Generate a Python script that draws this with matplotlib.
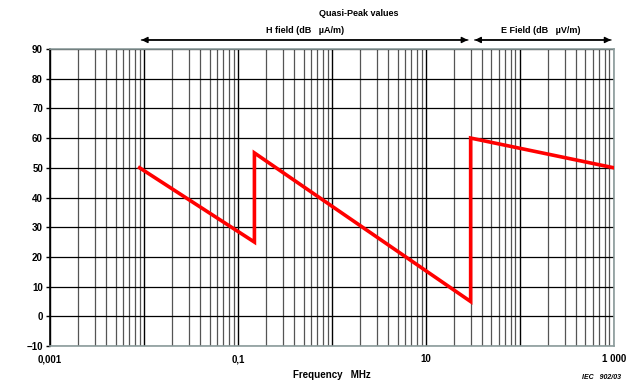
import numpy as np
import matplotlib
matplotlib.use("Agg")
import matplotlib.pyplot as plt
from matplotlib.ticker import FixedLocator, NullFormatter

plt.rcParams['font.family'] = ['Liberation Sans', 'DejaVu Sans']

# limit line (frequency in MHz, level in dB)
freq = [0.009, 0.15, 0.15, 30, 30, 1000]
level = [50, 25, 55, 5, 60, 50]

xtick_pos = [0.001, 0.1, 10, 1000]
xtick_lab = ["0,001", "0,1", "10", "1 000"]
ytick_pos = [-10, 0, 10, 20, 30, 40, 50, 60, 70, 80, 90]

fig = plt.figure(figsize=(6.4, 3.85), dpi=100)
ax = fig.add_axes([0.078, 0.101, 0.881, 0.772])

ax.set_xscale('log')
ax.set_xlim(0.001, 1000)
ax.set_ylim(-10, 90)

# log grid: decade lines and 2..9 subdivisions
minor = [m * 10.0**e for e in range(-3, 3) for m in range(2, 10)]
decades = [10.0**e for e in range(-3, 4)]
for v in minor:
    ax.axvline(v, color='#555555', lw=0.9, zorder=1)
for v in decades:
    ax.axvline(v, color='black', lw=1.0, zorder=1)
for v in ytick_pos:
    ax.axhline(v, color='black', lw=0.9, zorder=1)

ax.plot(freq, level, color='#ff0000', lw=2.6, zorder=3, solid_joinstyle='miter')

ax.xaxis.set_major_locator(FixedLocator(xtick_pos))
ax.set_xticklabels(xtick_lab)
ax.xaxis.set_minor_formatter(NullFormatter())
ax.tick_params(axis='x', which='both', length=0, pad=6)
ax.set_yticks(ytick_pos)
ax.set_yticklabels([("\u221210" if v < 0 else str(v)) for v in ytick_pos])
ax.tick_params(axis='y', length=3, width=1, pad=2)
for lab in ax.get_xticklabels() + ax.get_yticklabels():
    lab.set_fontsize(7)
    lab.set_fontweight('bold')

for s in ['top', 'right', 'bottom']:
    ax.spines[s].set_color('#8c9c9c')
    ax.spines[s].set_linewidth(1.2)
ax.spines['left'].set_color('black')
ax.spines['left'].set_linewidth(1.2)

ax.set_xlabel("Frequency   MHz", fontsize=7, fontweight='bold', labelpad=4)

# headings and range arrows
fig.text(0.56, 0.965, "Quasi-Peak values", fontsize=6.5, fontweight='bold',
         ha='center', va='center')
tr = ('data', 'axes fraction')
ax.annotate("", xy=(0.0088, 1.03), xytext=(30, 1.03), xycoords=tr, textcoords=tr,
            arrowprops=dict(arrowstyle='-|>', color='black', lw=1, mutation_scale=9),
            annotation_clip=False)
ax.annotate("", xy=(30, 1.03), xytext=(0.0088, 1.03), xycoords=tr, textcoords=tr,
            arrowprops=dict(arrowstyle='-|>', color='black', lw=1, mutation_scale=9),
            annotation_clip=False)
ax.annotate("", xy=(31, 1.03), xytext=(1000, 1.03), xycoords=tr, textcoords=tr,
            arrowprops=dict(arrowstyle='-|>', color='black', lw=1, mutation_scale=9),
            annotation_clip=False)
ax.annotate("", xy=(1000, 1.03), xytext=(31, 1.03), xycoords=tr, textcoords=tr,
            arrowprops=dict(arrowstyle='-|>', color='black', lw=1, mutation_scale=9),
            annotation_clip=False)
fig.text(0.477, 0.92, "H field (dB   \u00b5A/m)", fontsize=6.5, fontweight='bold',
         ha='center', va='center')
fig.text(0.845, 0.92, "E Field (dB   \u00b5V/m)", fontsize=6.5, fontweight='bold',
         ha='center', va='center')
fig.text(0.94, 0.01, "IEC   902/03", fontsize=5, fontstyle='italic',
         fontweight='bold', ha='center', va='bottom')

fig.savefig("out.png", dpi=100)
